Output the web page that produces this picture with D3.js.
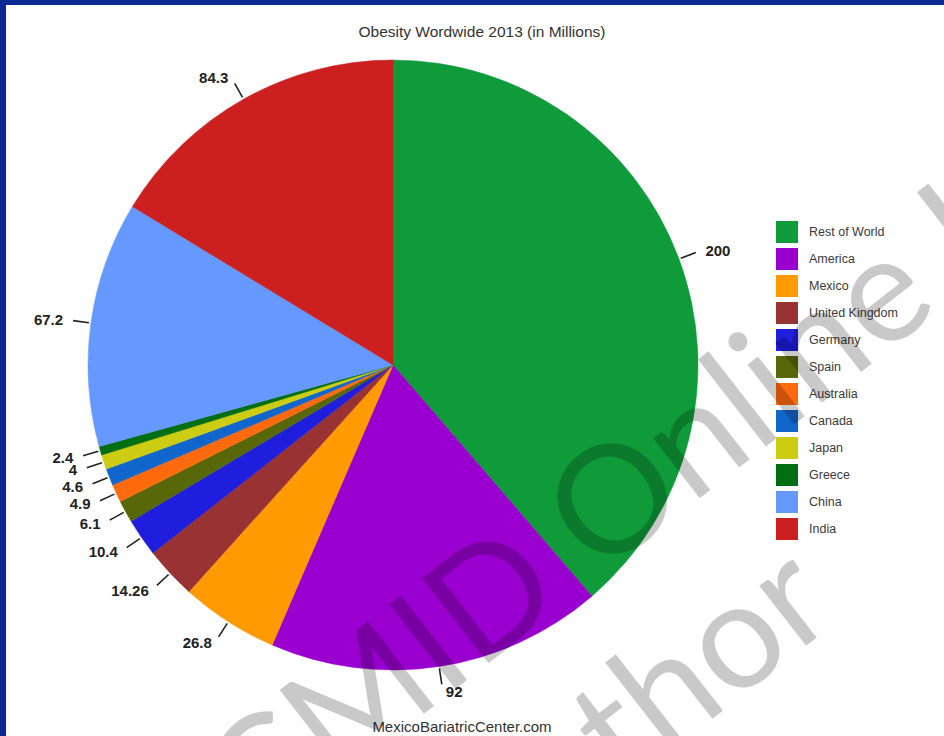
<!DOCTYPE html>
<html>
<head>
<meta charset="utf-8">
<script src="https://cdn.jsdelivr.net/npm/d3@7"></script>
<style>
  html, body { margin: 0; padding: 0; background: #ffffff; }
  svg { display: block; }
</style>
</head>
<body>
<script>
const categories = ["Rest of World", "America", "Mexico", "United Kingdom", "Germany", "Spain",
                    "Australia", "Canada", "Japan", "Greece", "China", "India"];
const values = [200, 92, 26.8, 14.26, 10.4, 6.1, 4.9, 4.6, 4, 2.4, 67.2, 84.3];
const valueLabels = ["200", "92", "26.8", "14.26", "10.4", "6.1", "4.9", "4.6", "4", "2.4", "67.2", "84.3"];
const palette = ["#0f9b3a", "#9900cf", "#ff9a00", "#993232", "#1e1edc", "#586808",
                 "#ff6a0e", "#1166cc", "#cccc12", "#006e12", "#6699ff", "#cc2020"];
const title = "Obesity Wordwide 2013 (in Millions)";
const footer = "MexicoBariatricCenter.com";
const watermarkLines = ["CMID Online Library", "Author"];

const W = 944, H = 736;
const svg = d3.select("body").append("svg").attr("width", W).attr("height", H);

// background + frame
svg.append("rect").attr("x", 0).attr("y", 0).attr("width", W).attr("height", H).attr("fill", "#0a2a92");
svg.append("rect").attr("x", 6).attr("y", 5).attr("width", W - 6).attr("height", H - 5).attr("fill", "#ffffff");

const FONT = "Liberation Sans, Arial, sans-serif";

// title
svg.append("text").attr("x", 482).attr("y", 37).attr("text-anchor", "middle")
  .attr("font-family", FONT).attr("font-size", 15.5)
  .attr("fill", "#333").text(title);

// pie
const cx = 393, cy = 365, R = 305;
const pie = d3.pie().sort(null).value(d => d.v);
const data = categories.map((c, i) => ({ c, v: values[i], label: valueLabels[i], color: palette[i] }));
const arcs = pie(data);
const arc = d3.arc().innerRadius(0).outerRadius(R);
const g = svg.append("g").attr("transform", `translate(${cx},${cy})`);
g.selectAll("path.slice").data(arcs).enter().append("path")
  .attr("class", "slice").attr("d", arc).attr("fill", d => d.data.color)
  .attr("stroke", d => d.data.color).attr("stroke-width", 0.5);

// labels with leader lines
arcs.forEach(d => {
  const a = (d.startAngle + d.endAngle) / 2;
  const p1 = [Math.sin(a) * (R + 2), -Math.cos(a) * (R + 2)];
  const p2 = [Math.sin(a) * (R + 18), -Math.cos(a) * (R + 18)];
  const p3 = [Math.sin(a) * (R + 25), -Math.cos(a) * (R + 25)];
  g.append("line").attr("x1", p1[0]).attr("y1", p1[1]).attr("x2", p2[0]).attr("y2", p2[1])
    .attr("stroke", "#222").attr("stroke-width", 1.6);
  const right = Math.sin(a) >= 0;
  g.append("text").attr("x", p3[0] + (right ? 3 : -3)).attr("y", p3[1])
    .attr("dy", "0.36em")
    .attr("text-anchor", right ? "start" : "end")
    .attr("font-family", FONT).attr("font-size", 15)
    .attr("font-weight", "bold").attr("fill", "#222").text(d.data.label);
});

// legend
const legend = svg.append("g").attr("transform", "translate(776,221)");
const rowY = d3.scaleBand().domain(categories).range([0, 27 * categories.length]).paddingInner(0);
const li = legend.selectAll("g.item").data(data).enter().append("g")
  .attr("class", "item").attr("transform", d => `translate(0,${rowY(d.c)})`);
li.append("rect").attr("width", 22).attr("height", 22).attr("fill", d => d.color);
li.append("text").attr("x", 33).attr("y", 11).attr("dy", "0.35em")
  .attr("font-family", FONT).attr("font-size", 12.5)
  .attr("fill", "#3a3a3a").text(d => d.c);

// footer
svg.append("text").attr("x", 462).attr("y", 732).attr("text-anchor", "middle")
  .attr("font-family", FONT).attr("font-size", 15)
  .attr("fill", "#333").text(footer);

// watermark
const wm = svg.append("g").attr("pointer-events", "none");
const WMF = "Lato, Liberation Sans, sans-serif";
wm.append("text").attr("transform", "translate(256,845) rotate(-38)")
  .attr("font-family", WMF).attr("font-weight", 400).attr("font-size", 150)
  .attr("fill", "#000").attr("fill-opacity", 0.21).text(watermarkLines[0]);
wm.append("text").attr("transform", "translate(478,902) rotate(-38)")
  .attr("font-family", WMF).attr("font-weight", 400).attr("font-size", 150)
  .attr("fill", "#000").attr("fill-opacity", 0.21).text(watermarkLines[1]);
</script>
</body>
</html>
